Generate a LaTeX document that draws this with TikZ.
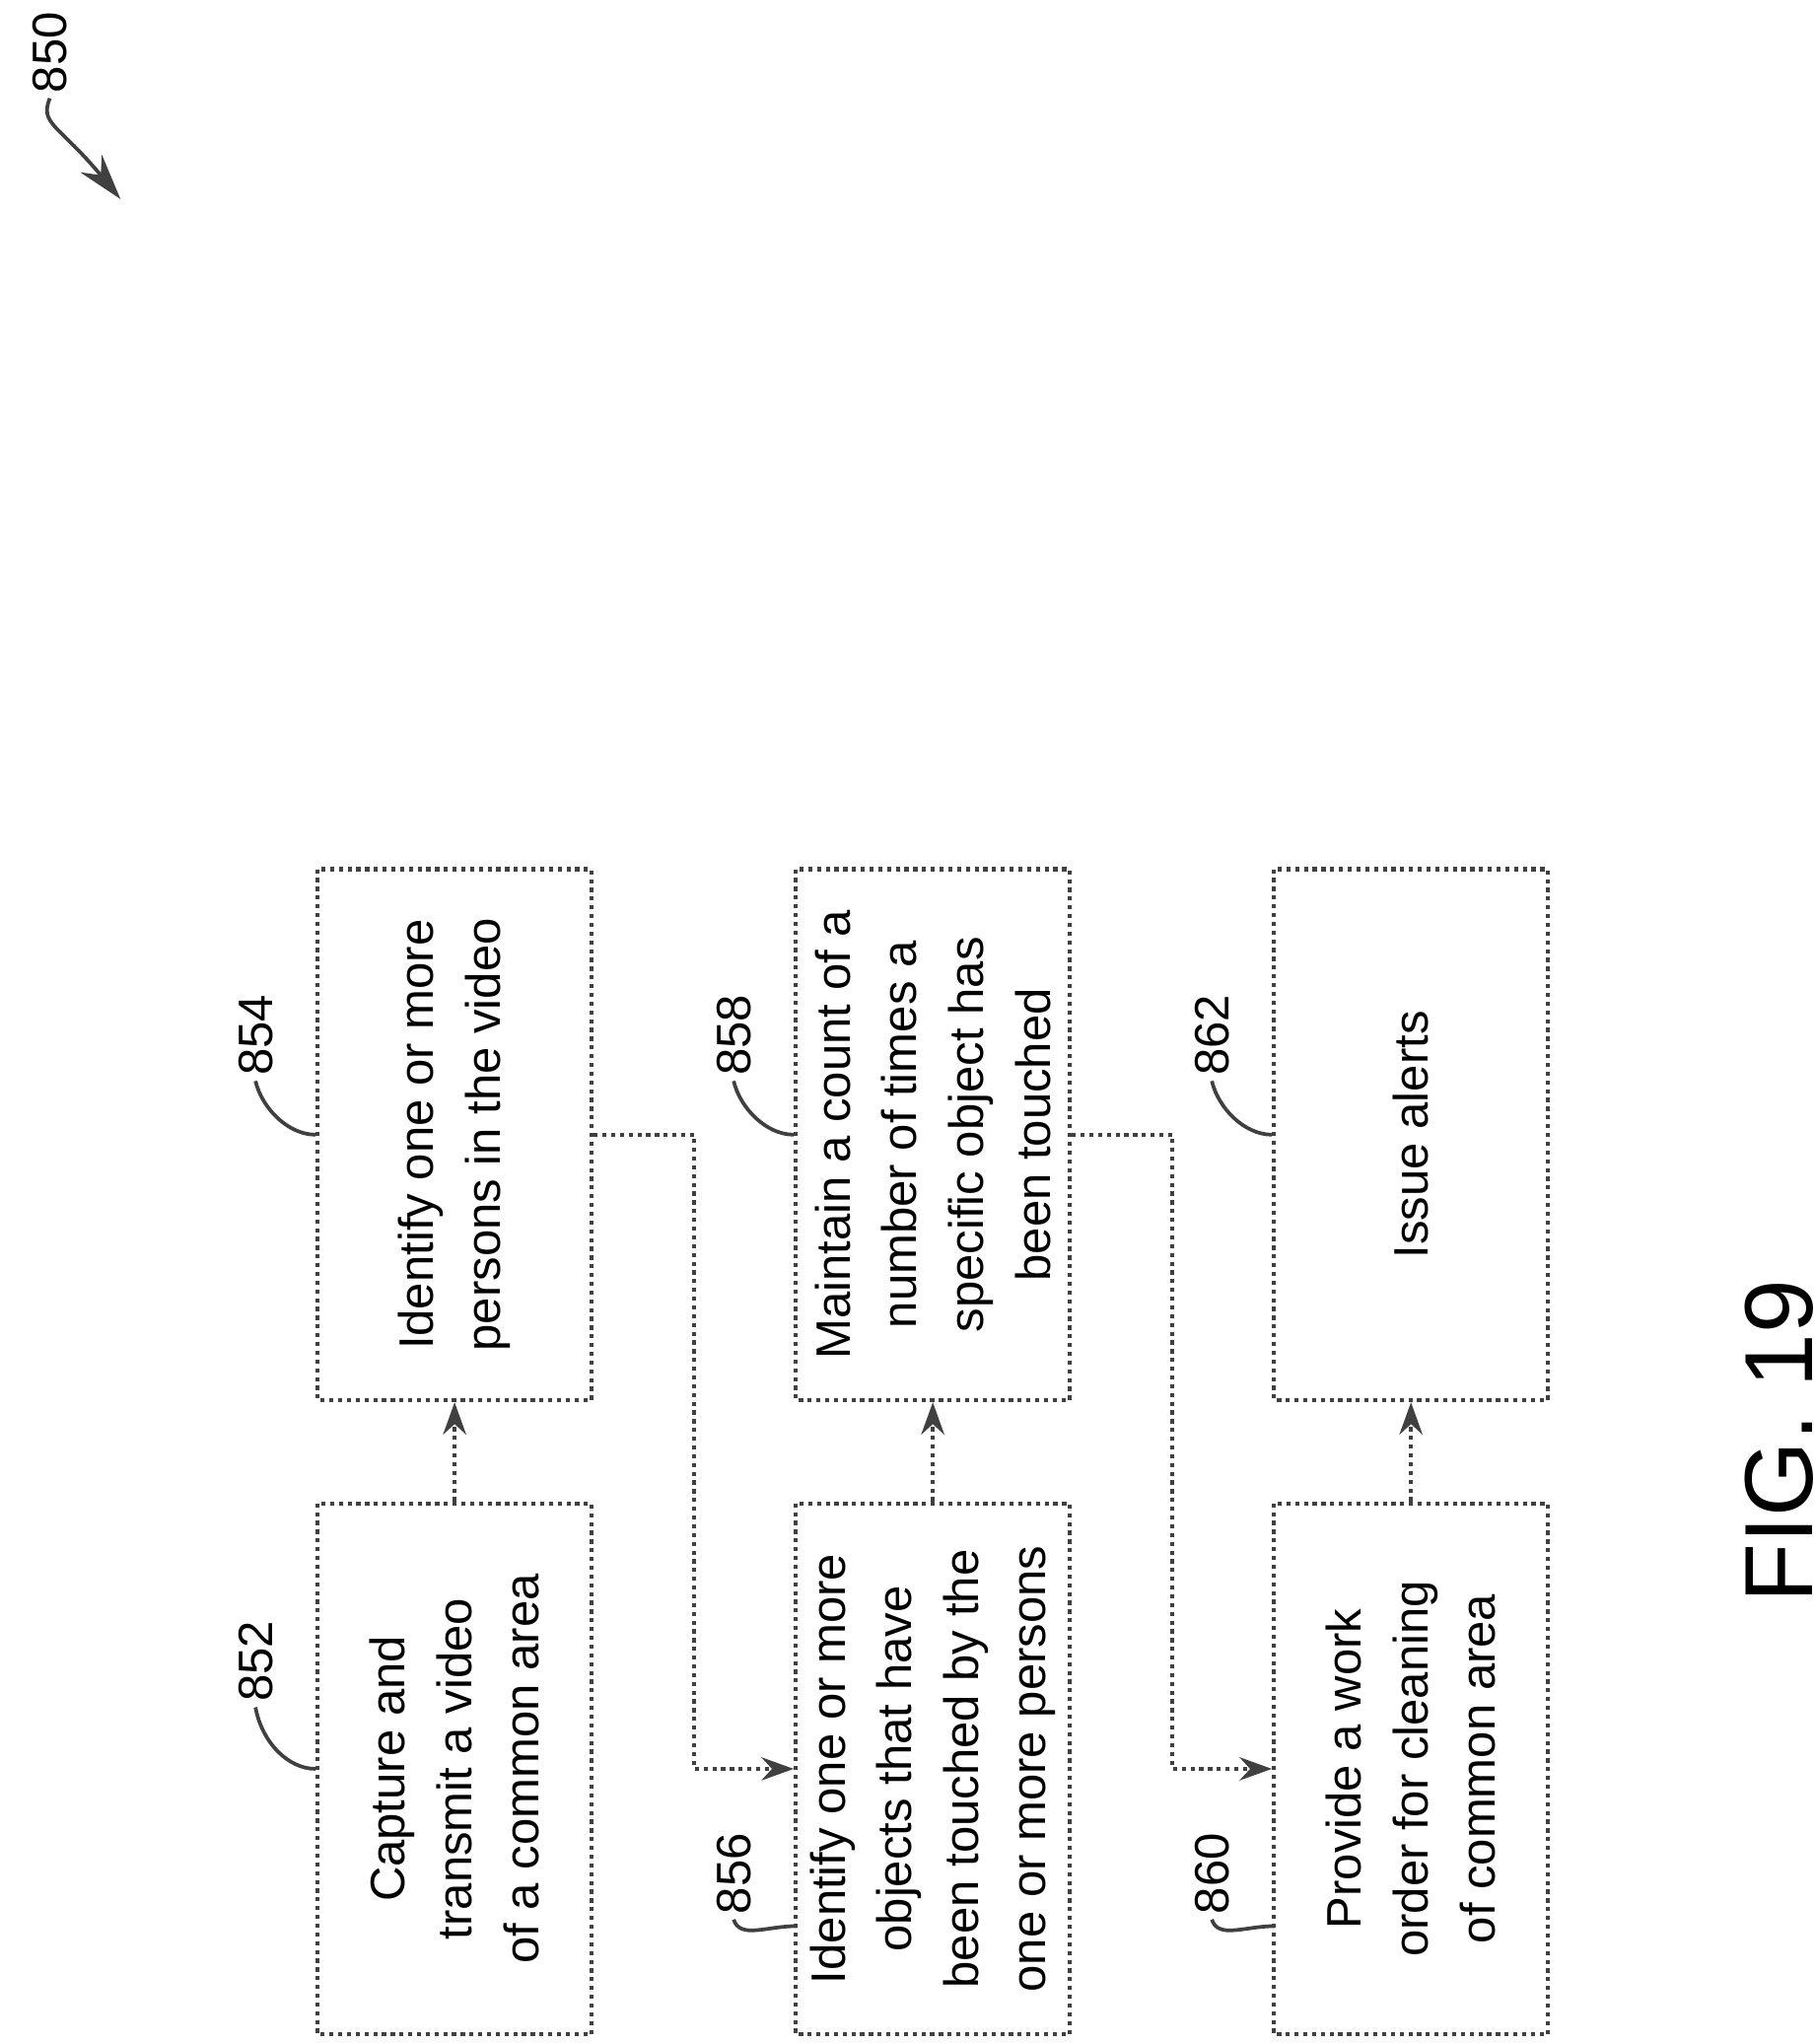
\documentclass[tikz,border=0pt]{standalone}
\usepackage{fontspec}
\setmainfont{Liberation Sans}
\usetikzlibrary{arrows.meta}
\begin{document}
\begin{tikzpicture}[x=0.01cm,y=-0.01cm]
	\tikzset{
		stepbox/.style={draw=black!75,densely dotted,line width=0.9pt,rotate=90,minimum width=4.05cm,minimum height=2.09cm,align=center,font=\fontsize{10.5}{14.5}\selectfont,inner sep=0pt},
		ref/.style={rotate=90,font=\fontsize{10.5}{12}\selectfont,inner sep=1pt},
		flow/.style={draw=black!75,densely dotted,line width=0.9pt,-{Stealth[length=7pt,width=5pt]}},
		lead/.style={draw=black!75,line width=0.8pt}
	}
	\useasboundingbox (0,0) rectangle (1385,1560);
	% boxes
	\node[stepbox] (852) at (347,1350) {Capture and\\transmit a video\\of a common area};
	\node[stepbox] (854) at (347,866)  {Identify one or more\\persons in the video};
	\node[stepbox] (856) at (712,1350) {Identify one or more\\objects that have\\been touched by the\\one or more persons};
	\node[stepbox] (858) at (712,866)  {Maintain a count of a\\number of times a\\specific object has\\been touched};
	\node[stepbox] (860) at (1077,1350) {Provide a work\\order for cleaning\\of common area};
	\node[stepbox] (862) at (1077,866)  {Issue alerts};
	% reference labels
	\node[ref] (l852) at (195,1268) {852};
	\node[ref] (l854) at (195,790)  {854};
	\node[ref] (l856) at (560,1430) {856};
	\node[ref] (l858) at (560,790)  {858};
	\node[ref] (l860) at (925,1430) {860};
	\node[ref] (l862) at (925,790)  {862};
	\node[ref] (l850) at (38,40)    {850};
	\node[rotate=90,font=\fontsize{21}{24}\selectfont] (fig) at (1358,1100) {FIG. 19};
	\coordinate (j1) at (530,866);
	\coordinate (j2) at (895,866);
	\coordinate (t850) at (92,152);
	% connectors
	\draw[flow] (852.east) -- (854.west);
	\draw[flow] (856.east) -- (858.west);
	\draw[flow] (860.east) -- (862.west);
	\draw[flow] (854.south) -- (j1) |- (856.north);
	\draw[flow] (858.south) -- (j2) |- (860.north);
	% leaders
	\draw[lead] (852.north) .. controls (220,1350) and (200,1330) .. (l852.west);
	\draw[lead] (854.north) .. controls (220,866) and (200,846) .. (l854.west);
	\draw[lead] (608,1470) .. controls (585,1470) and (565,1480) .. (l856.west);
	\draw[lead] (858.north) .. controls (585,866) and (565,846) .. (l858.west);
	\draw[lead] (973,1470) .. controls (950,1470) and (930,1480) .. (l860.west);
	\draw[lead] (862.north) .. controls (950,866) and (930,846) .. (l862.west);
	\draw[lead,-{Stealth[length=10pt,width=6pt]}] (l850.west) .. controls (30,95) and (45,95) .. (t850);
\end{tikzpicture}
\end{document}
